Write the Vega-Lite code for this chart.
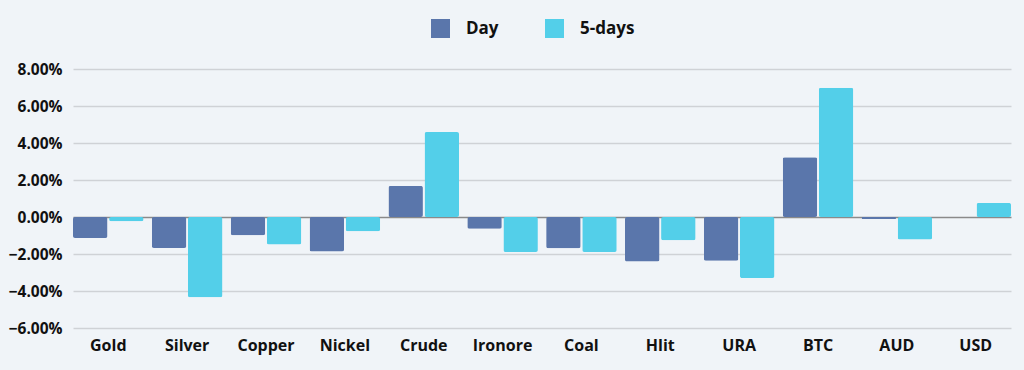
{
  "$schema": "https://vega.github.io/schema/vega-lite/v6.json",
  "width": 938,
  "height": 259,
  "autosize": {"type": "none"},
  "padding": {"left": 73, "top": 69, "right": 13, "bottom": 42},
  "background": "#f0f4f8",
  "data": {
    "values": [
      {"asset": "Gold", "period": "Day", "change": -1.13},
      {"asset": "Gold", "period": "5-days", "change": -0.23},
      {"asset": "Silver", "period": "Day", "change": -1.68},
      {"asset": "Silver", "period": "5-days", "change": -4.34},
      {"asset": "Copper", "period": "Day", "change": -0.99},
      {"asset": "Copper", "period": "5-days", "change": -1.48},
      {"asset": "Nickel", "period": "Day", "change": -1.86},
      {"asset": "Nickel", "period": "5-days", "change": -0.77},
      {"asset": "Crude", "period": "Day", "change": 1.68},
      {"asset": "Crude", "period": "5-days", "change": 4.59},
      {"asset": "Ironore", "period": "Day", "change": -0.63},
      {"asset": "Ironore", "period": "5-days", "change": -1.89},
      {"asset": "Coal", "period": "Day", "change": -1.69},
      {"asset": "Coal", "period": "5-days", "change": -1.89},
      {"asset": "Hlit", "period": "Day", "change": -2.41},
      {"asset": "Hlit", "period": "5-days", "change": -1.26},
      {"asset": "URA", "period": "Day", "change": -2.36},
      {"asset": "URA", "period": "5-days", "change": -3.3},
      {"asset": "BTC", "period": "Day", "change": 3.23},
      {"asset": "BTC", "period": "5-days", "change": 6.99},
      {"asset": "AUD", "period": "Day", "change": -0.11},
      {"asset": "AUD", "period": "5-days", "change": -1.21},
      {"asset": "USD", "period": "Day", "change": 0},
      {"asset": "USD", "period": "5-days", "change": 0.76}
    ]
  },
  "mark": {"type": "bar", "cornerRadius": 2},
  "encoding": {
    "x": {
      "field": "asset",
      "type": "nominal",
      "sort": null,
      "scale": {"paddingInner": 0.105, "paddingOuter": 0},
      "axis": {
        "title": null,
        "labelAngle": 0,
        "domain": false,
        "ticks": false,
        "labelPadding": 9,
        "labelFontSize": 16,
        "labelFontWeight": "bold",
        "labelColor": "#111111",
        "labelFont": "Open Sans"
      }
    },
    "xOffset": {
      "field": "period",
      "type": "nominal",
      "sort": ["Day", "5-days"],
      "scale": {"paddingInner": 0.045, "paddingOuter": 0}
    },
    "y": {
      "field": "change",
      "type": "quantitative",
      "scale": {"domain": [-6, 8], "nice": false},
      "axis": {
        "title": null,
        "values": [-6, -4, -2, 0, 2, 4, 6, 8],
        "labelExpr": "format(datum.value, '.2f') + '%'",
        "domain": false,
        "ticks": false,
        "labelPadding": 11,
        "labelFontSize": 15.5,
        "labelFontWeight": "bold",
        "labelColor": "#111111",
        "labelFont": "Open Sans",
        "gridColor": {"condition": {"test": "datum.value === 0", "value": "#8a8a8a"}, "value": "#cfd2d6"},
        "gridWidth": 1.5
      }
    },
    "color": {
      "field": "period",
      "type": "nominal",
      "sort": ["Day", "5-days"],
      "scale": {"domain": ["Day", "5-days"], "range": ["#5a76ab", "#53cfe9"]},
      "legend": {
        "title": null,
        "orient": "none",
        "legendX": 358,
        "legendY": -50,
        "direction": "horizontal",
        "symbolType": "square",
        "symbolSize": 361,
        "symbolStrokeWidth": 0,
        "symbolOpacity": 1,
        "labelOffset": 16,
        "labelFontSize": 17,
        "labelFontWeight": "bold",
        "labelColor": "#111111",
        "labelFont": "Open Sans",
        "columnPadding": 46
      }
    }
  },
  "config": {"view": {"stroke": null}}
}
